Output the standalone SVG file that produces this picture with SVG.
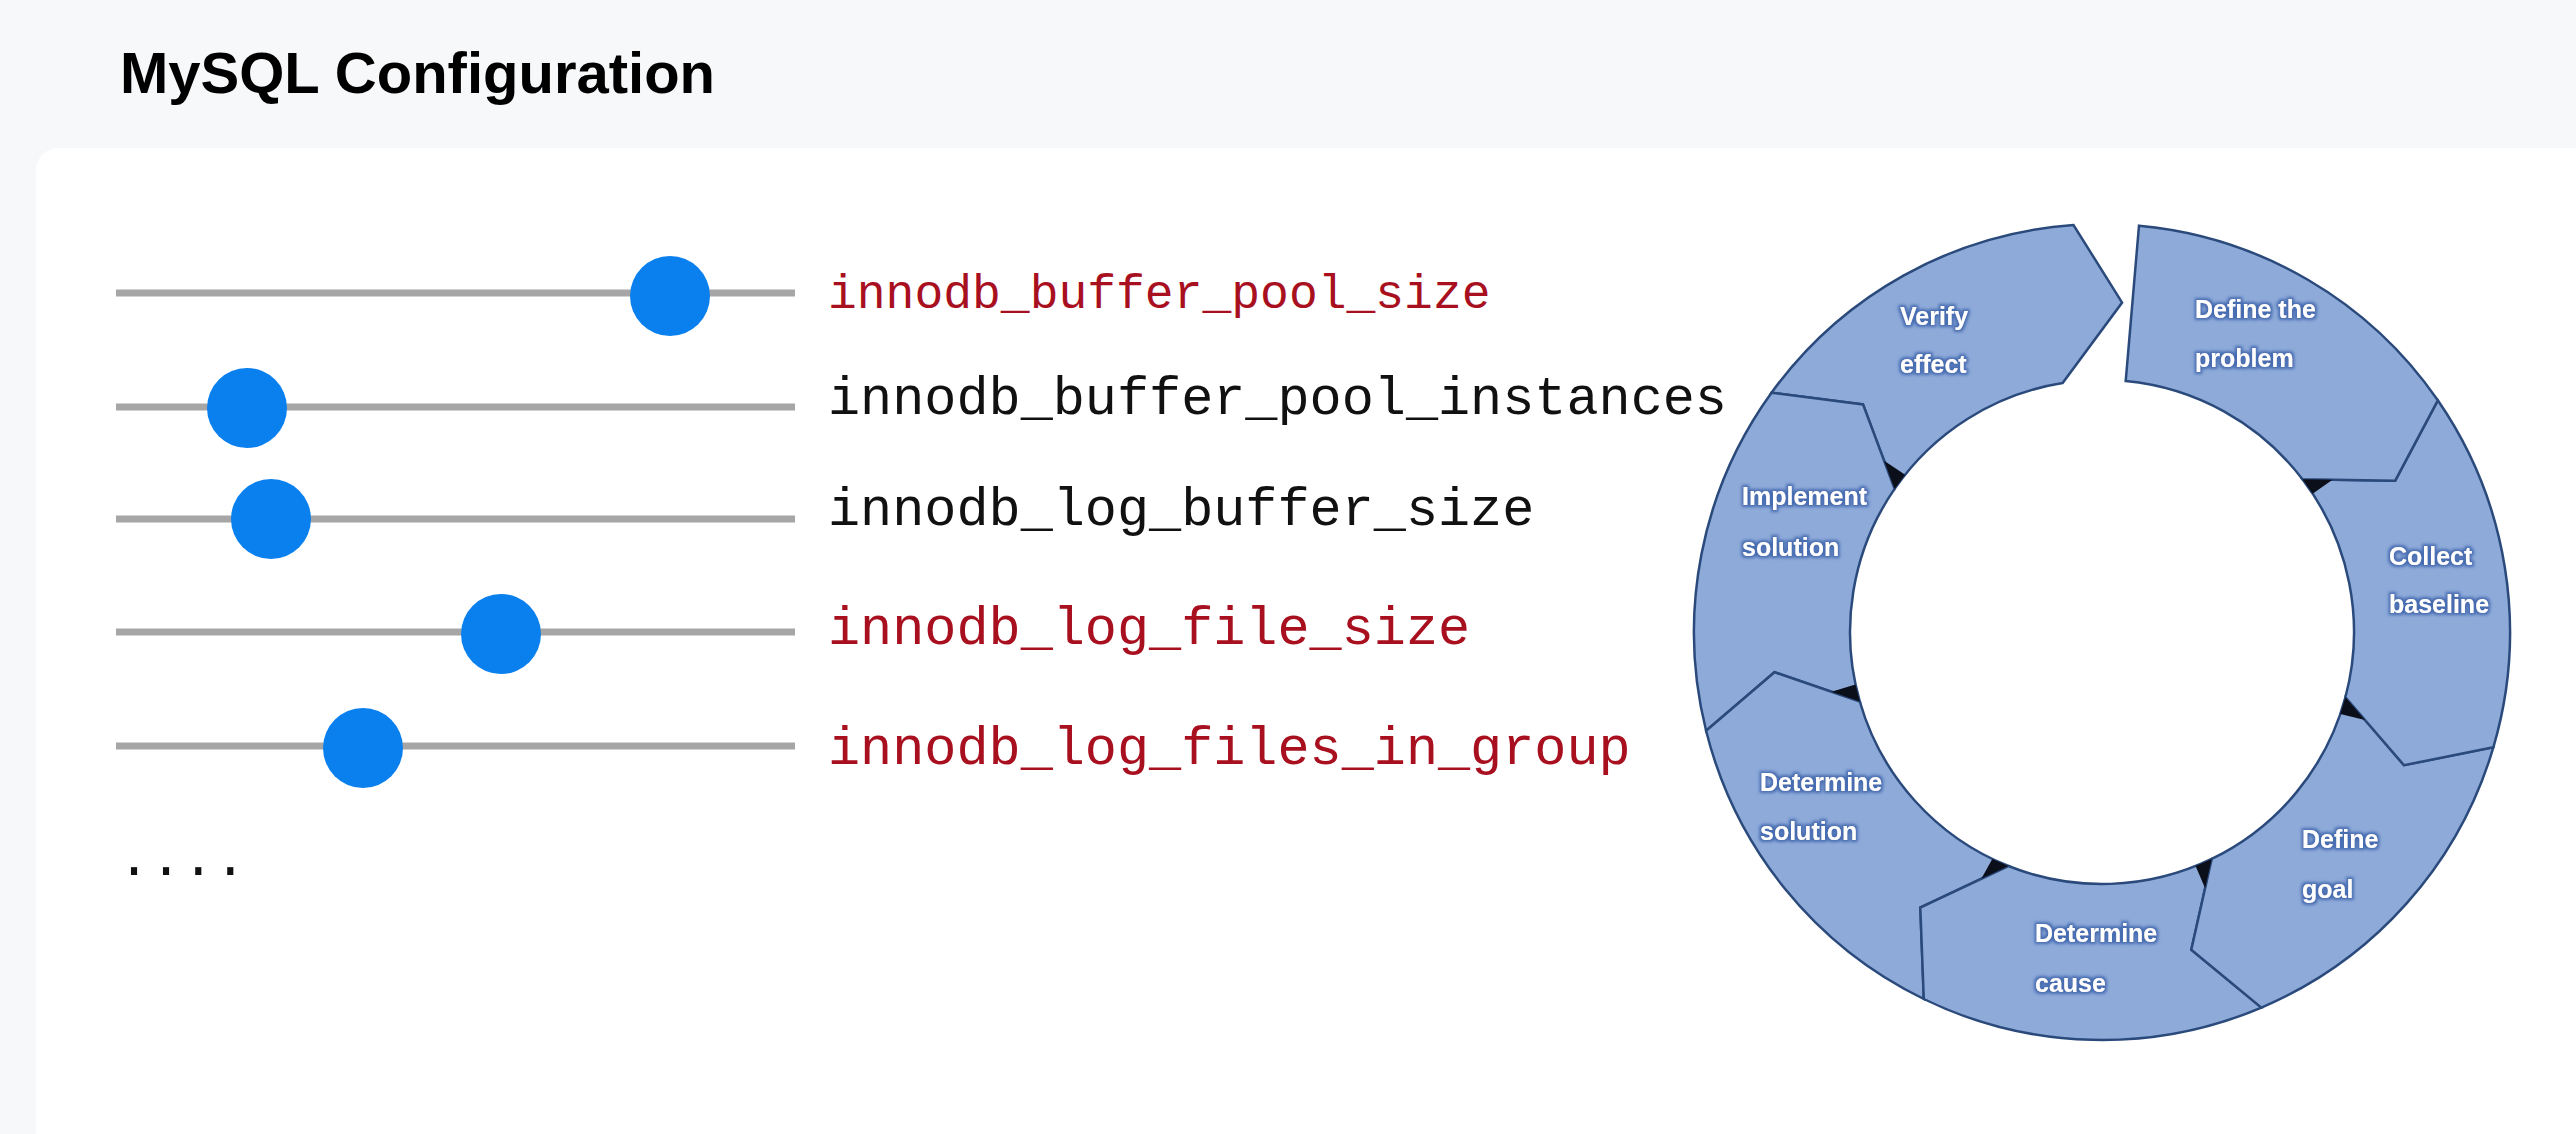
<svg xmlns="http://www.w3.org/2000/svg" width="2576" height="1134" viewBox="0 0 2576 1134">
  <style>
    .title { font-family: "Liberation Sans", Arial, sans-serif; font-weight: bold; font-size: 58px; fill: #000; }
    .track { stroke: #a6a6a6; stroke-width: 7; fill: none; }
    .knob { fill: #0a7fee; }
    .lbl { font-family: "Liberation Mono", "Courier New", monospace; font-size: 53.5px; }
    .lbl.small { font-size: 48px; }
    .red { fill: #a8101f; }
    .blk { fill: #111; }
    .seg { fill: #8eaad9; stroke: #2b4a7c; stroke-width: 2.5; stroke-linejoin: miter; }
    .seglbl { font-family: "Liberation Sans", Arial, sans-serif; font-weight: bold; font-size: 25px; fill: #ffffff; filter: url(#glow); }
    .wedge { fill: #0b0f1a; }
  </style>
  <defs>
    <filter id="glow" x="-15%" y="-40%" width="130%" height="180%">
      <feMorphology in="SourceAlpha" operator="dilate" radius="1.5" result="d"/>
      <feGaussianBlur in="d" stdDeviation="1.6" result="b"/>
      <feFlood flood-color="#3f66ad" flood-opacity="0.9"/>
      <feComposite in2="b" operator="in" result="g"/>
      <feMerge><feMergeNode in="g"/><feMergeNode in="SourceGraphic"/></feMerge>
    </filter>
  </defs>

  <rect x="0" y="0" width="2576" height="1134" fill="#f7f8f9"/>
  <rect x="36" y="148" width="2600" height="1050" rx="22" ry="22" fill="#ffffff"/>

  <text class="title" x="120" y="93">MySQL Configuration</text>

  <g id="slider-innodb_buffer_pool_size">
    <line class="track" x1="116" y1="293" x2="795" y2="293"/>
    <circle class="knob" cx="670" cy="296" r="40"/>
    <text class="lbl small red" x="828" y="308">innodb_buffer_pool_size</text>
  </g>
  <g id="slider-innodb_buffer_pool_instances">
    <line class="track" x1="116" y1="407" x2="795" y2="407"/>
    <circle class="knob" cx="247" cy="408" r="40"/>
    <text class="lbl blk" x="828" y="414">innodb_buffer_pool_instances</text>
  </g>
  <g id="slider-innodb_log_buffer_size">
    <line class="track" x1="116" y1="519" x2="795" y2="519"/>
    <circle class="knob" cx="271" cy="519" r="40"/>
    <text class="lbl blk" x="828" y="525">innodb_log_buffer_size</text>
  </g>
  <g id="slider-innodb_log_file_size">
    <line class="track" x1="116" y1="632" x2="795" y2="632"/>
    <circle class="knob" cx="501" cy="634" r="40"/>
    <text class="lbl red" x="828" y="644">innodb_log_file_size</text>
  </g>
  <g id="slider-innodb_log_files_in_group">
    <line class="track" x1="116" y1="746" x2="795" y2="746"/>
    <circle class="knob" cx="363" cy="748" r="40"/>
    <text class="lbl red" x="828" y="764">innodb_log_files_in_group</text>
  </g>
  <text class="lbl blk" x="118" y="875">....</text>

  <g id="cycle">
    <g id="seg-verify">
      <path class="seg" d="M 1771.5,392.7 A 408 408 0 0 1 2073.5,225.0 L 2122.1,302.6 L 2062.6,383.1 A 252 252 0 0 0 1894.6,488.9 L 1863.0,404.4 Z"/>
      <text class="seglbl" x="1900" y="325">Verify</text>
      <text class="seglbl" x="1900" y="373">effect</text>
    </g>
    <g id="seg-implement">
      <path class="seg" d="M 1706.1,730.7 A 408 408 0 0 1 1771.5,392.7 L 1863.0,404.4 L 1894.6,488.9 A 252 252 0 0 0 1859.8,701.5 L 1774.5,672.2 Z"/>
      <text class="seglbl" x="1742" y="505">Implement</text>
      <text class="seglbl" x="1742" y="556">solution</text>
    </g>
    <g id="seg-determine-solution">
      <path class="seg" d="M 1923.8,999.0 A 408 408 0 0 1 1706.1,730.7 L 1774.5,672.2 L 1859.8,701.5 A 252 252 0 0 0 2008.4,866.0 L 1920.3,907.5 Z"/>
      <text class="seglbl" x="1760" y="791">Determine</text>
      <text class="seglbl" x="1760" y="840">solution</text>
    </g>
    <g id="seg-determine-cause">
      <path class="seg" d="M 2261.4,1007.6 A 408 408 0 0 1 1923.8,999.0 L 1920.3,907.5 L 2008.4,866.0 A 252 252 0 0 0 2211.7,858.9 L 2191.3,949.7 Z"/>
      <text class="seglbl" x="2035" y="942">Determine</text>
      <text class="seglbl" x="2035" y="992">cause</text>
    </g>
    <g id="seg-define-goal">
      <path class="seg" d="M 2493.4,747.2 A 408 408 0 0 1 2261.4,1007.6 L 2191.3,949.7 L 2211.7,858.9 A 252 252 0 0 0 2345.4,697.2 L 2404.0,765.2 Z"/>
      <text class="seglbl" x="2302" y="848">Define</text>
      <text class="seglbl" x="2302" y="898">goal</text>
    </g>
    <g id="seg-collect-baseline">
      <path class="seg" d="M 2437.8,400.3 A 408 408 0 0 1 2493.4,747.2 L 2404.0,765.2 L 2345.4,697.2 A 252 252 0 0 0 2302.5,479.3 L 2395.2,480.7 Z"/>
      <text class="seglbl" x="2389" y="565">Collect</text>
      <text class="seglbl" x="2389" y="613">baseline</text>
    </g>
    <g id="seg-define-problem">
      <path class="seg" d="M 2139.0,225.7 A 408 408 0 0 1 2437.8,400.3 L 2395.2,480.7 L 2302.5,479.3 A 252 252 0 0 0 2125.7,381.1 Z"/>
      <text class="seglbl" x="2195" y="318">Define the</text>
      <text class="seglbl" x="2195" y="367">problem</text>
    </g>
  </g>

  <g id="connectors">
    <polygon class="wedge" points="2302.5,479.3 2332.5,479.8 2312.6,493.7"/>
    <polygon class="wedge" points="2345.4,697.2 2365.0,719.9 2340.3,714.0"/>
    <polygon class="wedge" points="2211.7,858.9 2205.1,888.2 2195.6,866.0"/>
    <polygon class="wedge" points="2008.4,866.0 1981.3,878.8 1992.3,858.9"/>
    <polygon class="wedge" points="1859.8,701.5 1831.4,691.8 1855.5,684.4"/>
    <polygon class="wedge" points="1894.6,488.9 1884.1,460.8 1905.1,474.8"/>
  </g>
</svg>
